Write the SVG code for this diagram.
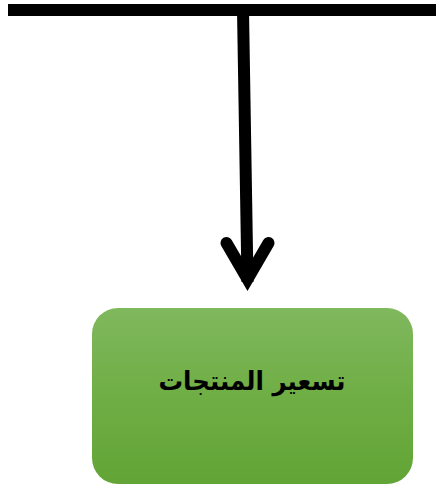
<svg xmlns="http://www.w3.org/2000/svg" width="436" height="485" viewBox="0 0 436 485">
  <defs>
    <linearGradient id="greenFill" x1="0" y1="0" x2="0" y2="1">
      <stop offset="0" stop-color="#80b85e"/>
      <stop offset="0.5" stop-color="#6fae45"/>
      <stop offset="1" stop-color="#62a435"/>
    </linearGradient>
    <style>
      .wire { fill: none; stroke: #000; stroke-width: 12; }
      .head { fill: none; stroke: #000; stroke-width: 12; stroke-linecap: round; stroke-linejoin: miter; stroke-miterlimit: 10; }
      .label { font-family: "DejaVu Sans", "Noto Sans", sans-serif; font-weight: bold; font-size: 26px; fill: #000; }
    </style>
  </defs>
  <rect width="436" height="485" fill="#fff"/>

  <g id="connectors">
    <line class="wire" x1="8" y1="10" x2="436" y2="10"/>
    <line class="wire" x1="243" y1="10" x2="247.5" y2="282"/>
    <polyline class="head" points="226.5,243 247.5,279 268.5,243"/>
  </g>

  <g id="node-pricing">
    <rect x="92" y="308" width="321" height="176" rx="26" ry="26" fill="url(#greenFill)"/>
    <text class="label" x="252" y="390" text-anchor="middle" direction="rtl" textLength="187" lengthAdjust="spacingAndGlyphs">تسعير المنتجات</text>
  </g>
</svg>
